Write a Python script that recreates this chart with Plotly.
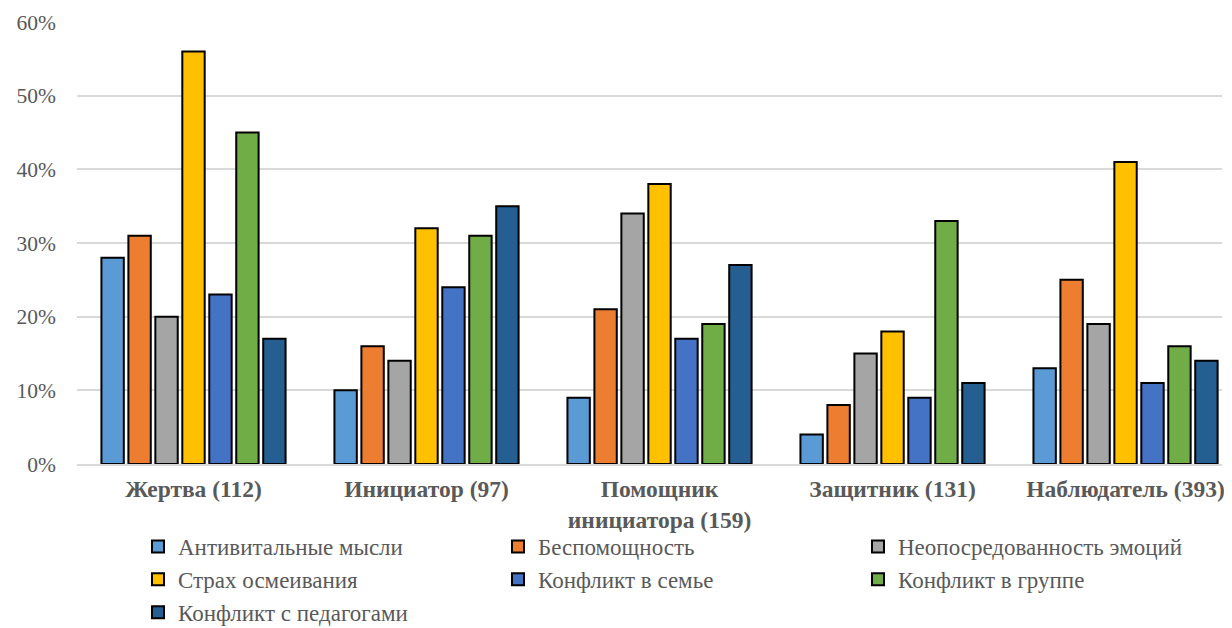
import plotly.graph_objects as go

categories = ["<b>Жертва (112)</b>", "<b>Инициатор (97)</b>", "<b>Помощник<br>инициатора (159)</b>",
              "<b>Защитник (131)</b>", "<b>Наблюдатель (393)</b>"]
series_names = ["Антивитальные мысли", "Беспомощность", "Неопосредованность эмоций",
                "Страх осмеивания", "Конфликт в семье", "Конфликт в группе",
                "Конфликт с педагогами"]
antivital = [0.28, 0.10, 0.09, 0.04, 0.13]
helpless = [0.31, 0.16, 0.21, 0.08, 0.25]
immediacy = [0.20, 0.14, 0.34, 0.15, 0.19]
ridicule = [0.56, 0.32, 0.38, 0.18, 0.41]
family = [0.23, 0.24, 0.17, 0.09, 0.11]
group = [0.45, 0.31, 0.19, 0.33, 0.16]
teachers = [0.17, 0.35, 0.27, 0.11, 0.14]
values = [antivital, helpless, immediacy, ridicule, family, group, teachers]
colors = ["#5B9BD5", "#ED7D31", "#A5A5A5", "#FFC000", "#4472C4", "#70AD47", "#255E91"]
legend_ids = ["legend", "legend2", "legend3", "legend", "legend2", "legend3", "legend"]

FONT = "Liberation Serif"
W, H = 1224, 620
ML, MR, MT, MB = 69, 10, 14, 164
PW = W - ML - MR
PH = H - MT - MB

fig = go.Figure()
for i, (name, vals) in enumerate(zip(series_names, values)):
    fig.add_trace(go.Bar(
        x=categories, y=vals, name=name,
        marker=dict(color=colors[i], line=dict(color="#000000", width=2)),
        legend=legend_ids[i],
    ))

leg_common = dict(orientation="v", yanchor="top", y=-(517 - (H - MB)) / PH, xanchor="left",
                  font=dict(family=FONT, size=23, color="#595959"),
                  tracegroupgap=0, bgcolor="rgba(0,0,0,0)", itemwidth=30)

fig.update_layout(
    width=W, height=H,
    margin=dict(l=ML, r=MR, t=MT, b=MB, autoexpand=False),
    paper_bgcolor="white", plot_bgcolor="white",
    barmode="group", bargap=0.19, bargroupgap=0.17,
    font=dict(family=FONT, color="#595959"),
    legend=dict(x=(130 - ML) / PW, **leg_common),
    legend2=dict(x=(490 - ML) / PW, **leg_common),
    legend3=dict(x=(850 - ML) / PW, **leg_common),
    xaxis=dict(range=[-0.5, 4.414], showgrid=False, showline=True,
               linecolor="#D9D9D9", linewidth=2,
               tickfont=dict(family=FONT, size=23.5, color="#595959"),
               ticklabelstandoff=3),
    yaxis=dict(range=[0, 0.6], dtick=0.1, tickformat=".0%", showgrid=True,
               gridcolor="#D9D9D9", gridwidth=2, zeroline=False,
               tickfont=dict(family=FONT, size=21.5, color="#595959"),
               ticklabelstandoff=20),
)

fig.write_html("out.html")
